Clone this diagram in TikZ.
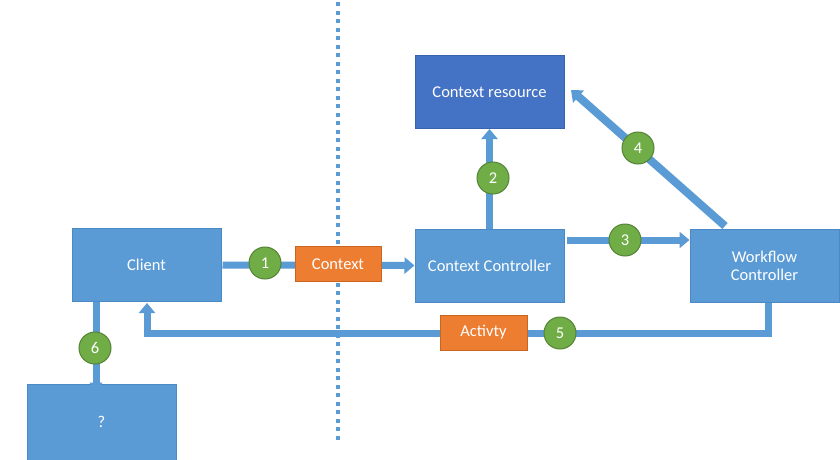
\documentclass[tikz,border=0pt]{standalone}
\usepackage{fontspec}
\setmainfont{Carlito}
\usetikzlibrary{arrows.meta}
\definecolor{lblue}{HTML}{5B9BD5}
\definecolor{lblueb}{HTML}{4A89C4}
\definecolor{dblue}{HTML}{4472C4}
\definecolor{dblueb}{HTML}{3A63AE}
\definecolor{orng}{HTML}{ED7D31}
\definecolor{orngb}{HTML}{C8651F}
\definecolor{grn}{HTML}{70AD47}
\definecolor{grnb}{HTML}{548235}
\tikzset{
  box/.style={draw=lblueb, fill=lblue, line width=1pt, text=white, minimum width=149pt, minimum height=73pt, inner sep=0pt, align=center, font=\fontsize{16.5}{19}\selectfont},
  dbox/.style={box, draw=dblueb, fill=dblue},
  tag/.style={draw=orngb, fill=orng, line width=1pt, text=white, inner sep=0pt, font=\fontsize{16.5}{19}\selectfont},
  num/.style={circle, draw=grnb, fill=grn, line width=1pt, text=white, minimum size=32pt, inner sep=0pt, font=\fontsize{16.5}{19}\selectfont},
  flow/.style={draw=lblue, line width=7pt, -{Triangle[width=16pt,length=10pt]}},
}
\begin{document}
\begin{tikzpicture}[x=1pt,y=-1pt]
\useasboundingbox (0,0) rectangle (840,459);
\fill[white] (0,0) rectangle (840,459);
% divider
\coordinate (dtop) at (338,2);
\coordinate (dbot) at (338,440);
\draw[lblue, line width=4pt, dash pattern=on 4pt off 4.5pt] (dtop) -- (dbot);
% boxes
\node[box] (client) at (146.5,265) {Client};
\node[box] (cc) at (489.5,265.5) {Context Controller};
\node[dbox] (cr) at (489.5,92) {Context resource};
\node[box] (wf) at (764.5,265.5) {Workflow\\[-1pt]Controller};
\node[box, minimum height=76pt] (q) at (101.5,422) {?};
% connectors
\draw[flow, shorten <=1pt] (client.east) -- (cc.west);
\draw[flow] (cc.north) -- (cr.south);
\draw[flow, shorten <=2pt] ([yshift=25.5pt]cc.east) -- ([yshift=25.5pt]wf.west);
\coordinate (w4) at (725,226);
\coordinate (r4) at (571,90);
\draw[flow, line width=8pt] (w4) -- (r4);
\coordinate (c5a) at (768,333);
\coordinate (c5b) at (147,333);
\draw[flow] ([xshift=3.5pt]wf.south) |- (c5a) -- (c5b) -- ([xshift=0.5pt, yshift=-1pt]client.south);
\coordinate (c6) at (96,302);
\draw[flow, -{Triangle[width=13pt,length=7pt]}] (c6) -- ([xshift=-5.5pt, yshift=-6pt]q.north);
% tags and numbers
\node[tag, minimum width=86pt, minimum height=35pt] (ctx) at (338,264) {Context};
\node[tag, minimum width=87pt, minimum height=35pt] (act) at (483.5,332.5) {Activty};
\node[num] (n1) at (265,263) {1};
\node[num] (n2) at (493,178) {2};
\node[num] (n3) at (625,240) {3};
\node[num] (n4) at (638,148) {4};
\node[num] (n5) at (560,333) {5};
\node[num] (n6) at (95,348) {6};
\end{tikzpicture}
\end{document}
